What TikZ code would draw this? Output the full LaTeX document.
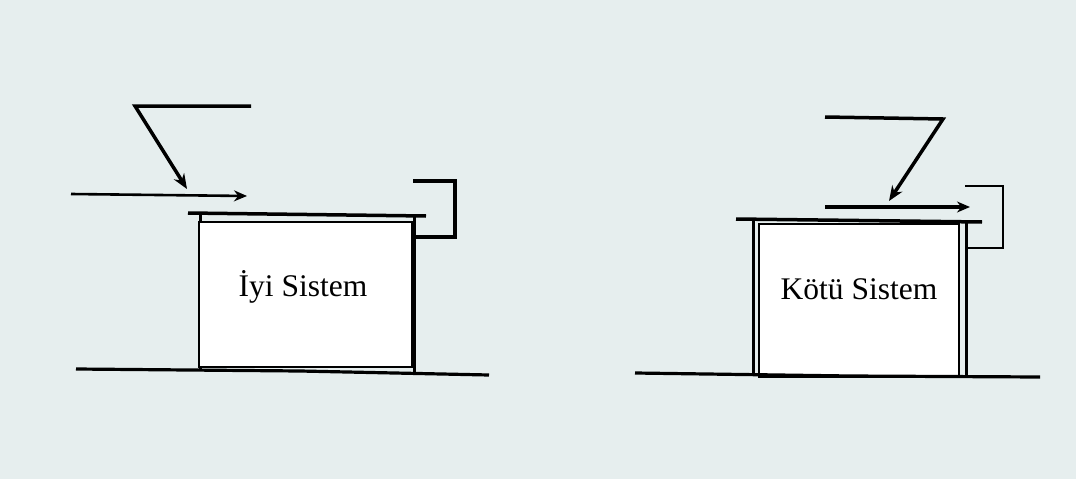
\documentclass[tikz,border=0pt]{standalone}
\usepackage{fontspec}
\setmainfont{Liberation Serif}
\usetikzlibrary{arrows.meta}
\definecolor{bg}{RGB}{230,238,238}
\tikzset{
  sysbox/.style={draw=black, fill=white, line width=1.6pt, inner sep=0pt},
  wall/.style={line width=3pt, black},
  plate/.style={line width=3.5pt, black},
  ground/.style={line width=3.2pt, black},
  bracket/.style={line width=3.5pt, black},
  zline/.style={line width=3.5pt, black, -{Stealth[length=15pt,width=12pt]}},
  flow/.style={line width=2.6pt, black, -{Stealth[length=13pt,width=11pt]}},
  lbl/.style={font=\fontsize{31.5}{38}\selectfont, inner sep=0pt},
}
\begin{document}
\begin{tikzpicture}[x=1pt,y=-1pt]
\fill[bg] (0,0) rectangle (1076,479);
\useasboundingbox (0,0) rectangle (1076,479);

% ---------- left: Iyi Sistem ----------
\coordinate (gz1) at (251,106);
\coordinate (gz2) at (135,106);
\coordinate (gzt) at (187,189);
\draw[zline] (gz1) -- (gz2) -- (gzt);
\coordinate (gf1) at (71,194);
\coordinate (gf2) at (247,196);
\draw[flow] (gf1) -- (gf2);
\coordinate (gp1) at (188,213);
\coordinate (gp2) at (426,216);
\draw[plate] (gp1) -- (gp2);
\draw[wall] (200,213) -- (200,370);
\draw[wall] (414,216) -- (414,372);
\node[sysbox, minimum width=213pt, minimum height=145pt] (good) at (305.5,294.5) {};
\node[lbl] (goodtxt) at (303,287) {İyi Sistem};
\draw[bracket] (413,181) -- (455,181) -- (455,237) -- (414,237);
\draw[ground] (76,369) -- (300,371) -- (489,375);

% ---------- right: Kotu Sistem ----------
\coordinate (bz1) at (825,117);
\coordinate (bz2) at (943,119);
\coordinate (bzt) at (889,201);
\draw[zline] (bz1) -- (bz2) -- (bzt);
\coordinate (bf1) at (825,207);
\coordinate (bf2) at (970,207);
\draw[flow, line width=3.6pt] (bf1) -- (bf2);
\coordinate (bp1) at (736,219);
\coordinate (bp2) at (982,222);
\draw[plate] (bp1) -- (bp2);
\draw[wall] (753,219) -- (753,374);
\draw[wall] (966,222) -- (966,375);
\node[sysbox, minimum width=200pt, minimum height=153pt] (bad) at (859,300.5) {};
\node[lbl] (badtxt) at (859,289) {Kötü Sistem};
\draw[bracket, line width=2.6pt] (965,186) -- (1003,186) -- (1003,248) -- (966,248);
\draw[ground] (635,373) -- (850,376) -- (1040,377);
\end{tikzpicture}
\end{document}
